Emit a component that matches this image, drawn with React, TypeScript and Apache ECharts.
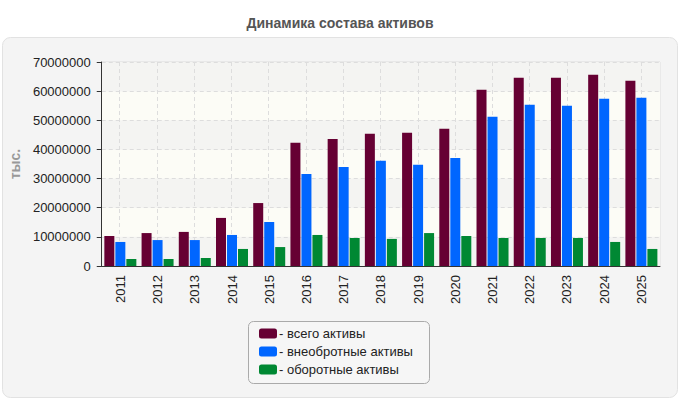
import React, { useEffect, useRef } from "react";
import * as echarts from "echarts";

const years = ["2011","2012","2013","2014","2015","2016","2017","2018","2019","2020","2021","2022","2023","2024","2025"];
const totalAssets = [10300000,11300000,11700000,16500000,21600000,42300000,43600000,45400000,45700000,47100000,60500000,64600000,64600000,65600000,63600000];
const nonCurrentAssets = [8250000,8900000,8900000,10650000,15100000,31600000,34000000,36100000,34700000,37100000,51200000,55300000,55000000,57400000,57700000];
const currentAssets = [2400000,2400000,2750000,5850000,6500000,10650000,9600000,9300000,11300000,10300000,9600000,9600000,9600000,8250000,5850000];
const seriesNames = ["всего активы", "внеобротные активы", "оборотные активы"];
const yTicks = { min: 0, max: 70000000, interval: 10000000 };

const FONT = "'Liberation Sans', Arial, sans-serif";

const GRID_LEFT = 101;
const GRID_RIGHT = 20;
const PLOT_W = 680 - GRID_LEFT - GRID_RIGHT;
const HALF_BAND = PLOT_W / years.length / 2;

export default function App() {
  const ref = useRef<HTMLDivElement>(null);
  useEffect(() => {
    document.body.style.margin = "0";
    const chart = echarts.init(ref.current!, null, { renderer: "svg" });
    chart.setOption({
      animation: false,
      backgroundColor: "#ffffff",
      textStyle: { fontFamily: FONT },
      title: {
        text: "Динамика состава активов",
        left: "center",
        top: 11,
        textStyle: { fontSize: 14, fontWeight: "bold", color: "#555555", fontFamily: "'Liberation Sans Narrow', 'Liberation Sans', Arial, sans-serif" },
      },
      graphic: [
        {
          type: "rect",
          z: -10,
          shape: { x: 2.5, y: 37.5, width: 675, height: 360, r: 8 },
          style: { fill: "#f4f4f4", stroke: "#e2e2e2", lineWidth: 1 },
        },
        {
          type: "rect",
          z: -5,
          shape: { x: 248.5, y: 321.5, width: 181, height: 62, r: 5 },
          style: { fill: "#f6f6f6", stroke: "#aaaaaa", lineWidth: 1 },
        },
      ],
      grid: [
        {
          left: GRID_LEFT,
          right: GRID_RIGHT,
          top: 62,
          bottom: 134,
          show: true,
          borderColor: "#dddddd",
          borderWidth: 1,
          backgroundColor: "transparent",
        },
        {
          left: GRID_LEFT + HALF_BAND,
          right: GRID_RIGHT + HALF_BAND,
          top: 62,
          bottom: 134,
          show: false,
        },
      ],
      legend: {
        orient: "vertical",
        left: 249,
        top: 327,
        padding: [0, 10, 0, 10],
        itemWidth: 18,
        itemHeight: 10,
        itemGap: 5,
        icon: "roundRect",
        data: seriesNames,
        formatter: (n: string) => "- " + n,
        textStyle: { fontSize: 13, color: "#222222", fontFamily: FONT, padding: [0, 0, 0, -3] },
      },
      xAxis: [
        {
          type: "category",
          gridIndex: 0,
          data: years,
          boundaryGap: true,
          axisLine: { lineStyle: { color: "#333333", width: 1 } },
          axisTick: { alignWithLabel: true, length: 5, lineStyle: { color: "#333333" } },
          axisLabel: { rotate: 90, margin: 9, fontSize: 13, color: "#222222", fontFamily: FONT, interval: 0 },
          splitLine: { show: false },
          z: 4,
        },
        {
          type: "category",
          gridIndex: 1,
          data: years,
          boundaryGap: false,
          axisLine: { show: false },
          axisTick: { show: false },
          axisLabel: { show: false },
          splitLine: { show: true, interval: 0, lineStyle: { color: "#dddddd", type: [4, 3], width: 1 } },
          z: 1,
        },
      ],
      yAxis: [
        {
          type: "value",
          gridIndex: 0,
          min: yTicks.min,
          max: yTicks.max,
          interval: yTicks.interval,
          name: "тыс.",
          nameLocation: "middle",
          nameGap: 71,
          nameRotate: 90,
          nameTextStyle: { fontSize: 14, fontWeight: "bold", color: "#999999", fontFamily: FONT },
          axisLine: { show: true, lineStyle: { color: "#333333", width: 1 } },
          axisTick: { show: true, length: 5, lineStyle: { color: "#333333" } },
          axisLabel: { margin: 11, fontSize: 13, color: "#222222", fontFamily: FONT, formatter: (v: number) => String(v) },
          splitLine: { show: true, lineStyle: { color: "#dddddd", type: [4, 3] } },
          splitArea: { show: true, areaStyle: { color: ["#f4f4f2", "#fcfcf6"] } },
          z: 0,
        },
        {
          type: "value",
          gridIndex: 1,
          min: yTicks.min,
          max: yTicks.max,
          interval: yTicks.interval,
          show: false,
          splitLine: { show: false },
        },
      ],
      series: [
        {
          name: seriesNames[0],
          type: "bar",
          z: 3,
          data: totalAssets,
          barWidth: 10,
          barGap: "10%",
          itemStyle: { color: "#660033" },
        },
        {
          name: seriesNames[1],
          type: "bar",
          z: 3,
          data: nonCurrentAssets,
          barWidth: 10,
          barGap: "10%",
          itemStyle: { color: "#0066ff" },
        },
        {
          name: seriesNames[2],
          type: "bar",
          z: 3,
          data: currentAssets,
          barWidth: 10,
          barGap: "10%",
          itemStyle: { color: "#008833" },
        },
      ],
    });
    return () => chart.dispose();
  }, []);
  return <div ref={ref} style={{ width: 680, height: 400 }} />;
}
